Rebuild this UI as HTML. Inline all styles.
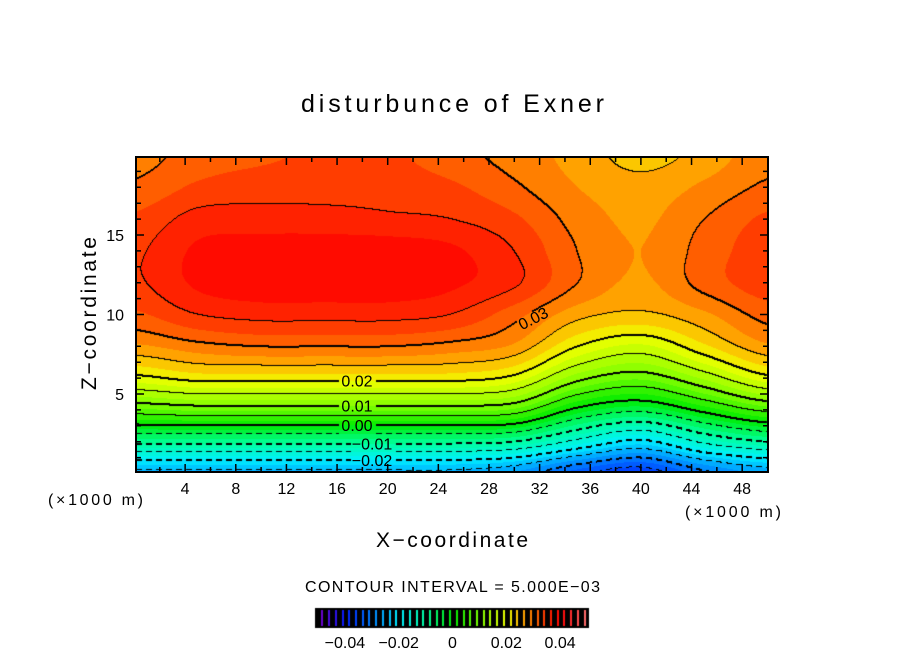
<!DOCTYPE html>
<html><head><meta charset="utf-8"><style>
body{margin:0;background:#fff;width:904px;height:654px;overflow:hidden;position:relative;font-family:"Liberation Sans",sans-serif}
canvas{position:absolute;left:0;top:0}
svg{position:absolute;left:0;top:0}
</style></head><body>
<canvas id="cv" width="904" height="654"></canvas>
<svg id="sv" width="904" height="654"></svg>
<script>
// grid data: columns at x = 0,5,...,50 ; rows at z = 0,2,...,20
const gridX = [0,5,10,15,20,25,30,35,40,45,50];
const gridZ = [0,2,4,6,8,10,12,14,16,18,20];
const col0  = [-0.026,-0.009,0.007,0.019,0.027,0.032,0.0345,0.0345,0.033,0.0305,0.029];
const col5  = [-0.026,-0.009,0.008,0.021,0.029,0.035,0.038,0.038,0.036,0.033,0.031];
const col10 = [-0.026,-0.009,0.008,0.021,0.030,0.036,0.039,0.039,0.036,0.034,0.032];
const col15 = [-0.026,-0.009,0.008,0.021,0.030,0.036,0.039,0.039,0.036,0.034,0.033];
const col20 = [-0.026,-0.009,0.008,0.021,0.030,0.036,0.039,0.039,0.0355,0.034,0.033];
const col25 = [-0.026,-0.009,0.008,0.021,0.029,0.035,0.038,0.038,0.035,0.033,0.031];
const col30 = [-0.028,-0.010,0.007,0.019,0.027,0.031,0.0355,0.035,0.033,0.0305,0.029];
const col35 = [-0.034,-0.016,-0.001,0.011,0.020,0.026,0.030,0.030,0.029,0.0275,0.0265];
const col40 = [-0.037,-0.021,-0.004,0.008,0.017,0.0245,0.027,0.0275,0.027,0.026,0.024];
const col45 = [-0.031,-0.014,0.001,0.013,0.022,0.027,0.031,0.031,0.030,0.028,0.026];
const col50 = [-0.027,-0.010,0.006,0.019,0.027,0.031,0.034,0.034,0.033,0.0305,0.029];
const columns = [col0,col5,col10,col15,col20,col25,col30,col35,col40,col45,col50];
const xTicks = [4,8,12,16,20,24,28,32,36,40,44,48];
const zTicks = [5,10,15];
const cbTicks = [-0.04,-0.02,0,0.02,0.04];
const cbTickText = ["\u22120.04","\u22120.02","0","0.02","0.04"];
const contourLabels = [["0.02",0.02],["0.01",0.01],["0.00",0],["\u22120.01",-0.01],["\u22120.02",-0.02]];

const L=136,R=768,T=157,B=472;
const xs=x=>134.5+12.66*x, zs=z=>473.5-15.9*z;
const xinv=p=>(p-134.5)/12.66, zinv=p=>(473.5-p)/15.9;
const cb=v=>318+(v+0.05)*2690;

function cr(p0,p1,p2,p3,t){return 0.5*((2*p1)+(-p0+p2)*t+(2*p0-5*p1+4*p2-p3)*t*t+(-p0+3*p1-3*p2+p3)*t*t*t);}
function g(i,j){i=Math.max(0,Math.min(gridX.length-1,i));j=Math.max(0,Math.min(gridZ.length-1,j));return columns[i][j];}
function field(x,z){
  let fx=x/5, fz=z/2; let i=Math.floor(fx), j=Math.floor(fz);
  i=Math.max(0,Math.min(gridX.length-2,i)); j=Math.max(0,Math.min(gridZ.length-2,j));
  const tx=fx-i, tz=fz-j; const r=[];
  for(let k=-1;k<=2;k++) r.push(cr(g(i-1,j+k),g(i,j+k),g(i+1,j+k),g(i+2,j+k),tx));
  return cr(r[0],r[1],r[2],r[3],tz);
}
const stops=[[-0.05,120,0,200],[-0.04,0,30,255],[-0.03,0,130,255],[-0.02,0,240,255],[-0.01,0,255,160],[0,0,235,0],[0.01,130,255,0],[0.02,240,255,0],[0.025,255,180,0],[0.03,255,110,0],[0.035,255,45,0],[0.04,255,0,0],[0.05,255,120,120]];
function color(v){
  v=Math.max(-0.05,Math.min(0.05,v));
  for(let k=0;k<stops.length-1;k++){const a=stops[k],b=stops[k+1];if(v<=b[0]){const t=(v-a[0])/(b[0]-a[0]);return [a[1]+(b[1]-a[1])*t,a[2]+(b[2]-a[2])*t,a[3]+(b[3]-a[3])*t];}}
  return stops[stops.length-1].slice(1);
}
function findZ(x,lev){for(let z=0;z<12;z+=0.02){if(field(x,z)>=lev)return z;}return 0;}
const labelBoxes=[];
contourLabels.forEach(([t,lev])=>{const cx=lev<0?372:357;const cy=zs(findZ(xinv(cx),lev));labelBoxes.push([cx,cy,t,lev<0?44:38]);});
labelBoxes.push([533,318,"0.03",34]);

const cv=document.getElementById('cv'),ctx=cv.getContext('2d');
const W=R-L,H=B-T;const img=ctx.createImageData(W,H);
const vals=new Float32Array(W*H);
for(let py=0;py<H;py++)for(let px=0;px<W;px++)vals[py*W+px]=field(xinv(L+px+0.5),zinv(T+py+0.5));
function inLabel(x,y){for(const b of labelBoxes){if(Math.abs(x-b[0])<b[3]/2&&Math.abs(y-b[1])<8)return true;}return false;}
for(let py=0;py<H;py++)for(let px=0;px<W;px++){
  const v=vals[py*W+px];const q=Math.floor(v/0.0025)*0.0025+0.00125;const c=color(q);
  const o=(py*W+px)*4;img.data[o]=c[0];img.data[o+1]=c[1];img.data[o+2]=c[2];img.data[o+3]=255;
}
function setBlack(px,py){if(px<0||py<0||px>=W||py>=H)return;const o=(py*W+px)*4;img.data[o]=0;img.data[o+1]=0;img.data[o+2]=0;}
for(let py=0;py<H-1;py++)for(let px=0;px<W-1;px++){
  const a=Math.floor(vals[py*W+px]/0.005);
  for(const [nx,ny] of [[px+1,py],[px,py+1]]){
    const b=Math.floor(vals[ny*W+nx]/0.005);
    if(a!==b){const lvI=Math.max(a,b);const lev=lvI*0.005;
      if(inLabel(L+px,T+py))continue;
      if(lev<-1e-6&&((px%10)>=6))continue;
      setBlack(px,py);
      if(Math.abs(Math.round(lvI)%2)===0){setBlack(px,py+1);}
    }
  }
}
ctx.putImageData(img,L,T);
ctx.fillStyle='#000';ctx.fillRect(315,608,274,20);
for(let v=-0.05+0.00125;v<0.05;v+=0.0025){const c=color(v);ctx.fillStyle=`rgb(${c[0]|0},${c[1]|0},${c[2]|0})`;ctx.fillRect(Math.round(cb(v)),610,2,16);}

const sv=document.getElementById('sv');const NS='http://www.w3.org/2000/svg';
function mk(tag,attrs,text){const e=document.createElementNS(NS,tag);for(const k in attrs)e.setAttribute(k,attrs[k]);if(text!==undefined)e.textContent=text;sv.appendChild(e);return e;}
let e;
e=mk('rect',{x:L,y:T,width:W,height:H,fill:'none',stroke:'#000','stroke-width':2});


for(let x=2;x<=50;x+=2){const p=xs(x);if(p<L+1||p>R-1)continue;const len=x%4===0?8:5;
  e=mk('path',{d:`M${p} ${B}v${-len}M${p} ${T}v${len}`,stroke:'#000','stroke-width':1.5});
  
  }
for(let z=1;z<=19;z++){const p=zs(z);const len=z%5===0?8:5;
  e=mk('path',{d:`M${L} ${p}h${len}M${R} ${p}h${-len}`,stroke:'#000','stroke-width':1.5});
  
  }
xTicks.forEach(x=>{e=mk('text',{x:xs(x),y:494,'font-size':16,'text-anchor':'middle'},String(x));
  
  });
zTicks.forEach(z=>{e=mk('text',{x:124,y:zs(z)+6,'font-size':16,'text-anchor':'end'},String(z));
  
  });
labelBoxes.forEach(b=>{const rot=b[2]==="0.03"?`rotate(-27 ${b[0]} ${b[1]})`:'';
  e=mk('text',{x:b[0],y:b[1]+6,'font-size':16,'text-anchor':'middle',transform:rot},b[2]);
  
  });
e=mk('text',{x:301,y:112,'font-size':25,textLength:303,lengthAdjust:'spacing'},'disturbunce of Exner');


e=mk('text',{x:376,y:547,'font-size':21,textLength:152,lengthAdjust:'spacing'},'X\u2212coordinate');


e=mk('text',{x:0,y:0,'font-size':21,textLength:153,lengthAdjust:'spacing',transform:'translate(96 390) rotate(-90)'},'Z\u2212coordinate');


e=mk('text',{x:48,y:505,'font-size':16,textLength:95,lengthAdjust:'spacing'},'(\u00d71000 m)');


e=mk('text',{x:685,y:517,'font-size':16,textLength:96,lengthAdjust:'spacing'},'(\u00d71000 m)');


e=mk('text',{x:305,y:592,'font-size':16,textLength:295,lengthAdjust:'spacing'},'CONTOUR INTERVAL = 5.000E\u221203');


cbTicks.forEach((v,k)=>{e=mk('text',{x:cb(v),y:648,'font-size':16,'text-anchor':'middle'},cbTickText[k]);
  
  });
</script>
</body></html>
